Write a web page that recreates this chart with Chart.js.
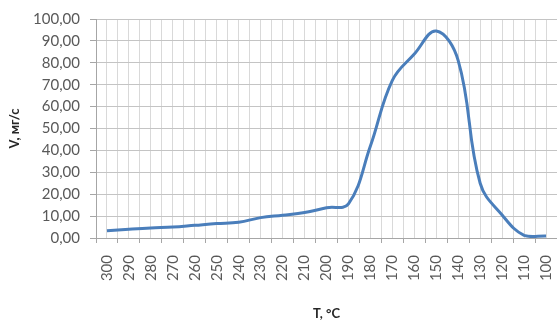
<!DOCTYPE html>
<html>
<head>
<meta charset="utf-8">
<script src="https://cdn.jsdelivr.net/npm/chart.js@4/dist/chart.umd.min.js"></script>
<style>
html,body{margin:0;padding:0;background:#fff;}
#wrap{width:557px;height:327px;position:relative;}
</style>
</head>
<body>
<div id="wrap"><canvas id="c"></canvas></div>
<script>
const categories = ["300","290","280","270","260","250","240","230","220","210","200","190","180","170","160","150","140","130","120","110","100"];
const rateValues = [3.3, 4.0, 4.6, 5.0, 5.8, 6.6, 7.2, 9.3, 10.4, 11.6, 13.8, 15.6, 42, 72, 84, 94.5, 81, 25, 10.5, 1.2, 0.9];
const yTickMin = 0, yTickMax = 100, yTickStep = 10;
const yTitle = "V, мг/с";
const xTitle = "T, °C";

const FONT = "Lato, 'Open Sans', sans-serif";
new Chart(document.getElementById('c'), {
  type: 'line',
  data: {
    labels: categories,
    datasets: [{
      data: rateValues,
      borderColor: '#4A7EBB',
      borderWidth: 3,
      pointRadius: 0,
      tension: 0.4,
      fill: false,
      xAxisID: 'x',
      yAxisID: 'y'
    }]
  },
  options: {
    responsive: true,
    maintainAspectRatio: false,
    animation: false,
    layout: { padding: { top: 16, right: 0, left: 0, bottom: 0 } },
    plugins: { legend: { display: false }, tooltip: { enabled: false } },
    scales: {
      x: {
        type: 'category',
        offset: true,
        position: 'bottom',
        grid: { offset: true, color: '#D9D9D9', tickColor: '#A6A6A6', tickLength: 5, drawTicks: true },
        border: { color: '#A6A6A6', width: 1 },
        ticks: { minRotation: 90, maxRotation: 90, autoSkip: false, padding: 12, color: '#595959', font: { family: FONT, size: 15 } },
        title: { display: true, text: xTitle, color: '#262626', font: { family: FONT, size: 13, weight: 'bold' }, padding: { top: 4, bottom: 5 } },
        afterFit: s => { s.height = 89; s.paddingLeft = 0; s.paddingRight = 0; }
      },
      x2: {
        type: 'category',
        labels: categories,
        offset: true,
        position: 'top',
        grid: { offset: false, color: '#D9D9D9', drawTicks: false },
        border: { display: false },
        ticks: { display: false },
        afterFit: s => { s.paddingLeft = 0; s.paddingRight = 0; }
      },
      y: {
        min: yTickMin,
        max: yTickMax,
        ticks: { stepSize: yTickStep, padding: 10, color: '#595959', font: { family: FONT, size: 15 },
                 callback: v => v.toFixed(2).replace('.', ',') },
        grid: { color: '#C4C4C4', tickColor: '#A6A6A6', tickLength: 6 },
        border: { color: '#A6A6A6', width: 1 },
        title: { display: true, text: yTitle, color: '#262626', font: { family: FONT, size: 13, weight: 'bold' }, padding: { top: 7, bottom: 7 } },
        afterFit: s => { s.width = 96; }
      }
    }
  }
});
</script>
</body>
</html>
